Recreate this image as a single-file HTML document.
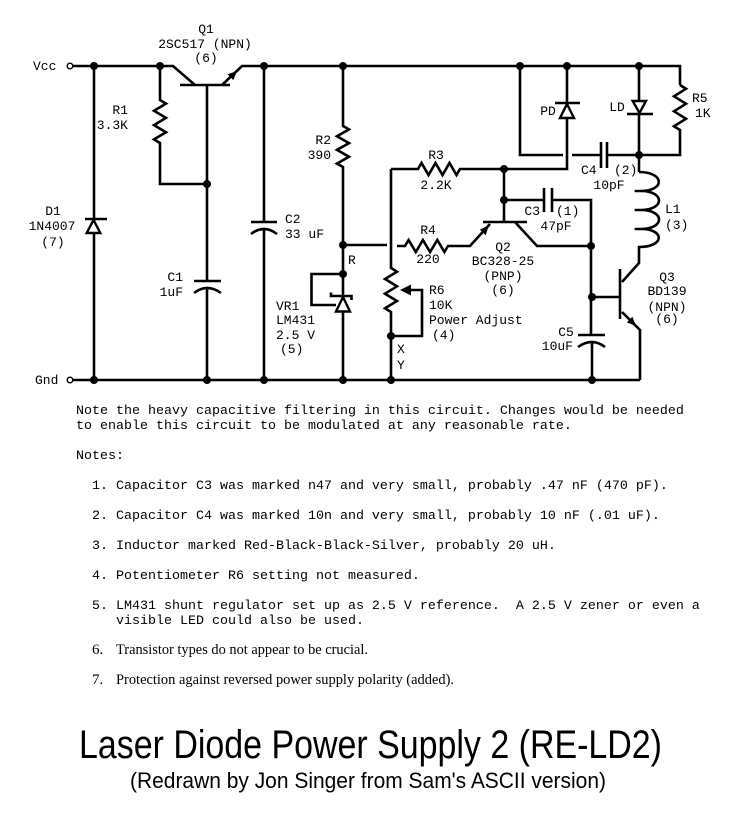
<!DOCTYPE html>
<html><head><meta charset="utf-8"><style>
html,body{margin:0;padding:0;background:#fff;}
svg{display:block;}
.w{fill:none;stroke:#000;stroke-width:2.6;stroke-linejoin:miter;}
.t{font-family:"Liberation Mono",monospace;font-size:13px;fill:#000;}
.n{font-family:"Liberation Mono",monospace;font-size:13.33px;fill:#000;white-space:pre;}
.s{font-family:"Liberation Serif",serif;font-size:15px;fill:#000;}
.h{font-family:"Liberation Sans",Arial,sans-serif;fill:#000;}
</style></head><body>
<svg width="749" height="835" viewBox="0 0 749 835" xmlns="http://www.w3.org/2000/svg" xml:space="preserve">
<rect width="749" height="835" fill="#fff"/>
<!-- terminals -->
<circle cx="70" cy="66" r="2.8" fill="#fff" stroke="#000" stroke-width="1.4"/>
<circle cx="70" cy="380" r="2.8" fill="#fff" stroke="#000" stroke-width="1.4"/>
<!-- Vcc rail and Q1 -->
<path class="w" d="M73,66 H173 L195,85"/>
<path class="w" d="M180,85 H230"/>
<path class="w" d="M222,85 L242,66 H680 V85"/>
<polygon points="237,71 233.3,80.1 227.7,74.3" fill="#000"/>
<!-- Gnd rail -->
<path class="w" d="M73,380 H640"/>
<!-- D1 -->
<path class="w" d="M94,66 V380"/>
<path class="w" d="M85,219 H107"/>
<polygon points="93.5,220 86.7,233 100.3,233" fill="#fff" stroke="#000" stroke-width="2.4"/>
<!-- R1 -->
<path class="w" d="M160,66 V100 L166,103.6 L154,110.8 L166,117.9 L154,125.1 L166,132.3 L154,139.4 L160,143 V184 H207"/>
<!-- Q1 base / C1 -->
<path class="w" d="M207,85 V281"/>
<path class="w" d="M194,281 H221"/>
<path class="w" d="M194,293 Q207,283 221,293"/>
<path class="w" d="M207,288 V380"/>
<!-- C2 -->
<path class="w" d="M264,66 V222"/>
<path class="w" d="M251,222 H277"/>
<path class="w" d="M251,234 Q264,224 277,234"/>
<path class="w" d="M264,229 V380"/>
<!-- R2 / VR1 -->
<path class="w" d="M343,66 V126 L349,129.4 L337,136.3 L349,143.1 L337,149.9 L349,156.8 L337,163.6 L343,167 V297"/>
<path class="w" d="M343,274 H311.5 V305 H336"/>
<path class="w" d="M331,292.5 V296 H351.5 V300"/>
<polygon points="343,297 336,311.5 350,311.5" fill="#fff" stroke="#000" stroke-width="2.4"/>
<path class="w" d="M343,312 V380"/>
<!-- R node to R4 (with crossing gap) -->
<path class="w" d="M343,245 H387"/>
<path class="w" d="M397,246 H405 L408.6,240 L415.8,252 L422.9,240 L430.1,252 L437.3,240 L444.4,252 L448,246 H470 L490,224"/>
<polygon points="489,225 485.7,235.3 479.9,229.7" fill="#000"/>
<!-- vertical x=391 R3 / R6 -->
<path class="w" d="M391,169 V268 L397,271.7 L385,279 L397,286.3 L385,293.7 L397,301 L385,308.3 L391,312 V380"/>
<path class="w" d="M391,169 H418 L421.5,163 L428.5,175 L435.5,163 L442.5,175 L449.5,163 L456.5,175 L460,169 H567 V118"/>
<!-- R6 wiper -->
<path class="w" d="M408,290 H422 V336 H391"/>
<polygon points="400,290 411,284.5 411,295.5" fill="#000"/>
<!-- PD -->
<path class="w" d="M567,66 V103"/>
<path class="w" d="M555,103 H580"/>
<polygon points="567,104 560,118 574,118" fill="#fff" stroke="#000" stroke-width="2.4"/>
<!-- loop & C4 -->
<path class="w" d="M520,66 V155 H563"/>
<path class="w" d="M572,155 H601"/>
<path class="w" d="M601,142 V168 M607,142 V168"/>
<path class="w" d="M607,155 H639"/>
<!-- LD -->
<path class="w" d="M639,66 V101"/>
<polygon points="632.7,101 646,101 639.5,113" fill="#fff" stroke="#000" stroke-width="2.4"/>
<path class="w" d="M627,114 H653"/>
<path class="w" d="M639,114 V172"/>
<!-- R5 -->
<path class="w" d="M680,85 L686,88.8 L674,96.3 L686,103.8 L674,111.3 L686,118.8 L674,126.3 L680,130 V155 H639"/>
<!-- L1 coil -->
<path class="w" d="M639,172 C665,172 665,191 641,191 C634,191 634,191 641,191 C665,191 665,210 641,210 C634,210 634,210 641,210 C665,210 665,229 641,229 C634,229 634,229 641,229 C665,229 665,247 639,247 V263 L622,282"/>
<!-- Q2 / C3 -->
<path class="w" d="M504,169 V222"/>
<path class="w" d="M483,222 H527"/>
<path class="w" d="M515,222 L537,246 H591"/>
<path class="w" d="M504,200 H544 M552,200 H591 V335"/>
<path class="w" d="M544,188 V212 M552,188 V212"/>
<!-- C5 -->
<path class="w" d="M578,335 H605"/>
<path class="w" d="M578,347 Q592,337 605,347"/>
<path class="w" d="M592,342 V380"/>
<!-- Q3 -->
<path class="w" d="M592,297 H620"/>
<path class="w" d="M620,269 V319"/>
<path class="w" d="M622,312 L640,330 V380"/>
<polygon points="636,326 626.8,322.4 632.4,316.8" fill="#000"/>
<!-- dots -->
<g fill="#000">
<circle cx="94" cy="66" r="4"/><circle cx="160" cy="66" r="4"/><circle cx="264" cy="66" r="4"/>
<circle cx="343" cy="66" r="4"/><circle cx="520" cy="66" r="4"/><circle cx="567" cy="66" r="4"/><circle cx="639" cy="66" r="4"/>
<circle cx="207" cy="184" r="4"/>
<circle cx="94" cy="380" r="4"/><circle cx="207" cy="380" r="4"/><circle cx="264" cy="380" r="4"/>
<circle cx="343" cy="380" r="4"/><circle cx="391" cy="380" r="4"/><circle cx="592" cy="380" r="4"/>
<circle cx="343" cy="245" r="4"/><circle cx="343" cy="274" r="4"/><circle cx="391" cy="336" r="4"/>
<circle cx="504" cy="169" r="4"/><circle cx="504" cy="200" r="4"/><circle cx="591" cy="246" r="4"/>
<circle cx="592" cy="297" r="4"/><circle cx="639" cy="155" r="4"/>
</g>
<!-- labels -->
<g class="t">
<text x="33" y="70">Vcc</text>
<text x="35" y="384">Gnd</text>
<text x="206" y="33" text-anchor="middle">Q1</text>
<text x="205" y="48" text-anchor="middle">2SC517 (NPN)</text>
<text x="206" y="62" text-anchor="middle">(6)</text>
<text x="128" y="114" text-anchor="end">R1</text>
<text x="128" y="129" text-anchor="end">3.3K</text>
<text x="53" y="215" text-anchor="middle">D1</text>
<text x="52" y="230" text-anchor="middle">1N4007</text>
<text x="53" y="246" text-anchor="middle">(7)</text>
<text x="183" y="281" text-anchor="end">C1</text>
<text x="183" y="296" text-anchor="end">1uF</text>
<text x="285" y="223">C2</text>
<text x="285" y="238">33 uF</text>
<text x="331" y="144" text-anchor="end">R2</text>
<text x="331" y="159" text-anchor="end">390</text>
<text x="436" y="159" text-anchor="middle">R3</text>
<text x="436" y="189" text-anchor="middle">2.2K</text>
<text x="428" y="234" text-anchor="middle">R4</text>
<text x="428" y="263" text-anchor="middle">220</text>
<text x="348" y="264">R</text>
<text x="276" y="310">VR1</text>
<text x="276" y="324">LM431</text>
<text x="276" y="339">2.5 V</text>
<text x="280" y="353">(5)</text>
<text x="429" y="294">R6</text>
<text x="429" y="309">10K</text>
<text x="429" y="324">Power Adjust</text>
<text x="432" y="339">(4)</text>
<text x="397" y="353">X</text>
<text x="397" y="369">Y</text>
<text x="503" y="251" text-anchor="middle">Q2</text>
<text x="503" y="265" text-anchor="middle">BC328-25</text>
<text x="503" y="280" text-anchor="middle">(PNP)</text>
<text x="503" y="294" text-anchor="middle">(6)</text>
<text x="540" y="215" text-anchor="end">C3</text>
<text x="556" y="215">(1)</text>
<text x="556" y="230" text-anchor="middle">47pF</text>
<text x="581" y="174">C4</text>
<text x="614" y="174">(2)</text>
<text x="609" y="189" text-anchor="middle">10pF</text>
<text x="548" y="115" text-anchor="middle">PD</text>
<text x="617" y="111" text-anchor="middle">LD</text>
<text x="692" y="102">R5</text>
<text x="695" y="117">1K</text>
<text x="665" y="213">L1</text>
<text x="665" y="229">(3)</text>
<text x="667" y="281" text-anchor="middle">Q3</text>
<text x="667" y="295" text-anchor="middle">BD139</text>
<text x="667" y="311" text-anchor="middle">(NPN)</text>
<text x="667" y="323" text-anchor="middle">(6)</text>
<text x="566" y="336" text-anchor="middle">C5</text>
<text x="573" y="350" text-anchor="end">10uF</text>
</g>
<!-- notes -->
<g class="n">
<text x="76" y="414">Note the heavy capacitive filtering in this circuit. Changes would be needed</text>
<text x="76" y="429">to enable this circuit to be modulated at any reasonable rate.</text>
<text x="76" y="459">Notes:</text>
<text x="92" y="489">1. Capacitor C3 was marked n47 and very small, probably .47 nF (470 pF).</text>
<text x="92" y="519">2. Capacitor C4 was marked 10n and very small, probably 10 nF (.01 uF).</text>
<text x="92" y="549">3. Inductor marked Red-Black-Black-Silver, probably 20 uH.</text>
<text x="92" y="579">4. Potentiometer R6 setting not measured.</text>
<text x="92" y="609" xml:space="preserve">5. LM431 shunt regulator set up as 2.5 V reference.  A 2.5 V zener or even a</text>
<text x="116" y="624">visible LED could also be used.</text>
</g>
<g class="s">
<text x="92" y="654">6.</text>
<text x="116" y="654" textLength="252" lengthAdjust="spacingAndGlyphs">Transistor types do not appear to be crucial.</text>
<text x="92" y="684">7.</text>
<text x="116" y="684" textLength="338" lengthAdjust="spacingAndGlyphs">Protection against reversed power supply polarity (added).</text>
</g>
<text class="h" x="79" y="758" font-size="40" textLength="583" lengthAdjust="spacingAndGlyphs">Laser Diode Power Supply 2 (RE-LD2)</text>
<text class="h" x="130" y="788" font-size="22" textLength="476" lengthAdjust="spacingAndGlyphs">(Redrawn by Jon Singer from Sam's ASCII version)</text>
</svg>
</body></html>
